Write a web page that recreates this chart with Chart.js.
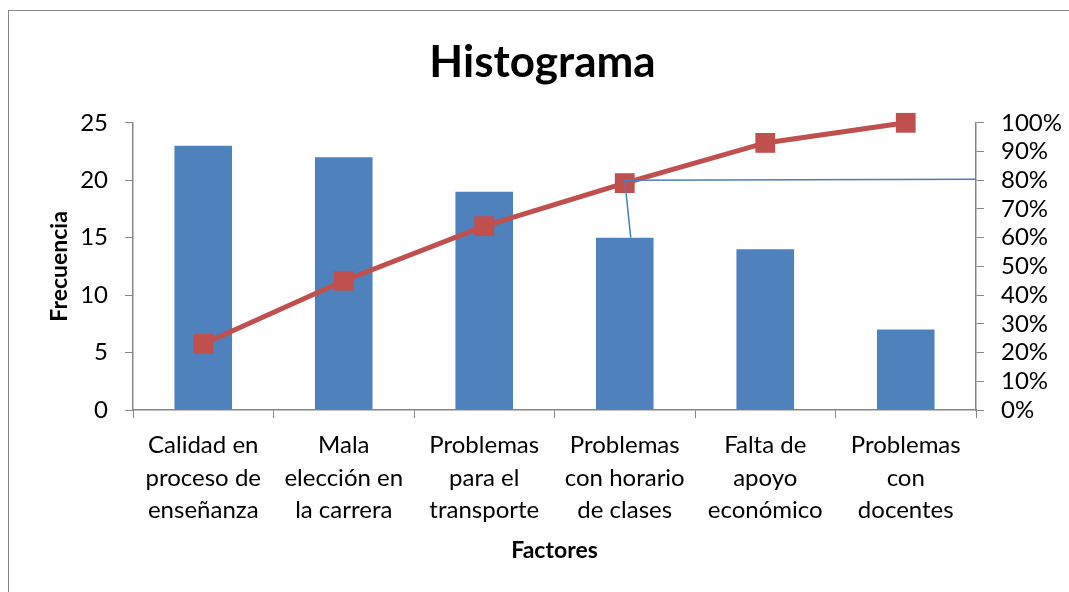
<!DOCTYPE html>
<html>
<head>
<meta charset="utf-8">
<script src="https://cdn.jsdelivr.net/npm/chart.js@4"></script>
<style>
  body { margin: 0; background: #fff; }
  #frame { position: absolute; left: 8px; top: 10px; width: 1100px; height: 620px; border: 1px solid #868686; }
  #wrap { position: absolute; left: 0; top: 0; width: 1069px; height: 592px; }
</style>
</head>
<body>
<div id="frame"></div>
<div id="wrap"><canvas id="myChart"></canvas></div>
<script>
const factores = [
  ['Calidad en', 'proceso de', 'enseñanza'],
  ['Mala', 'elección en', 'la carrera'],
  ['Problemas', 'para el', 'transporte'],
  ['Problemas', 'con horario', 'de clases'],
  ['Falta de', 'apoyo', 'económico'],
  ['Problemas', 'con', 'docentes']
];
const frecuencia = [23, 22, 19, 15, 14, 7];
const acumulado = [23, 45, 64, 79, 93, 100];
// hand-drawn blue line: from bar 4 up to the 80% level, then across to the right axis
const marca = { index: 3, desde: 15, nivel: 80 };

Chart.defaults.font.family = 'Lato, "Open Sans", sans-serif';
Chart.defaults.color = '#000';

const linea80 = {
  id: 'linea80',
  afterDatasetsDraw(chart) {
    const { ctx, chartArea, scales } = chart;
    const x = scales.x.getPixelForValue(marca.index);
    const y0 = scales.y.getPixelForValue(marca.desde);
    const y1 = scales.y1.getPixelForValue(marca.nivel);
    ctx.save();
    ctx.strokeStyle = '#4A7EBB';
    ctx.lineWidth = 1.5;
    ctx.beginPath();
    ctx.moveTo(x + 6, y0);
    ctx.lineTo(x, y1);
    ctx.lineTo(chartArea.right, y1 - 1);
    ctx.stroke();
    ctx.restore();
  }
};

const ctx = document.getElementById('myChart').getContext('2d');
const myChart = new Chart(ctx, {
  type: 'bar',
  data: {
    labels: factores,
    datasets: [{
      type: 'line',
      label: 'Acumulado',
      data: acumulado,
      yAxisID: 'y1',
      borderColor: '#C0504D',
      backgroundColor: '#C0504D',
      borderWidth: 5,
      pointStyle: 'rect',
      pointRadius: 14,
      pointBorderWidth: 0,
      tension: 0,
      clip: false,
      order: 0
    }, {
      label: 'Frecuencia',
      data: frecuencia,
      yAxisID: 'y',
      backgroundColor: '#4F81BD',
      categoryPercentage: 1,
      barPercentage: 0.41,
      order: 1
    }]
  },
  options: {
    responsive: true,
    maintainAspectRatio: false,
    animation: false,
    layout: { padding: { left: 16, right: 0, top: 0, bottom: 0 } },
    plugins: {
      legend: { display: false },
      tooltip: { enabled: false },
      title: {
        display: true,
        text: 'Histograma',
        font: { size: 44, weight: 'bold' },
        padding: { top: 36, bottom: 34 }
      }
    },
    scales: {
      x: {
        grid: { drawOnChartArea: false, color: '#868686', tickLength: 8 },
        border: { color: '#868686', width: 1.5 },
        ticks: { font: { size: 24, lineHeight: 1.36 }, padding: 11, maxRotation: 0, autoSkip: false },
        title: { display: true, text: 'Factores', font: { size: 23, weight: 'bold' }, padding: { bottom: 28 } },
        afterFit: (s) => { s.height = 182; }
      },
      y: {
        position: 'left',
        min: 0, max: 25,
        ticks: { stepSize: 5, font: { size: 24 }, padding: 17 },
        grid: { drawOnChartArea: false, color: '#868686', tickLength: 8 },
        border: { color: '#868686', width: 1.5 },
        title: { display: true, text: 'Frecuencia', font: { size: 23, weight: 'bold' }, padding: { top: 30 } },
        afterFit: (s) => { s.width = 117; }
      },
      y1: {
        position: 'right',
        min: 0, max: 100,
        ticks: { stepSize: 10, autoSkip: false, font: { size: 24 }, padding: 17, callback: (v) => v + '%' },
        grid: { drawOnChartArea: false, color: '#868686', tickLength: 8 },
        border: { color: '#868686', width: 1.5 },
        afterFit: (s) => { s.width = 93; }
      }
    }
  },
  plugins: [linea80]
});
</script>
</body>
</html>
